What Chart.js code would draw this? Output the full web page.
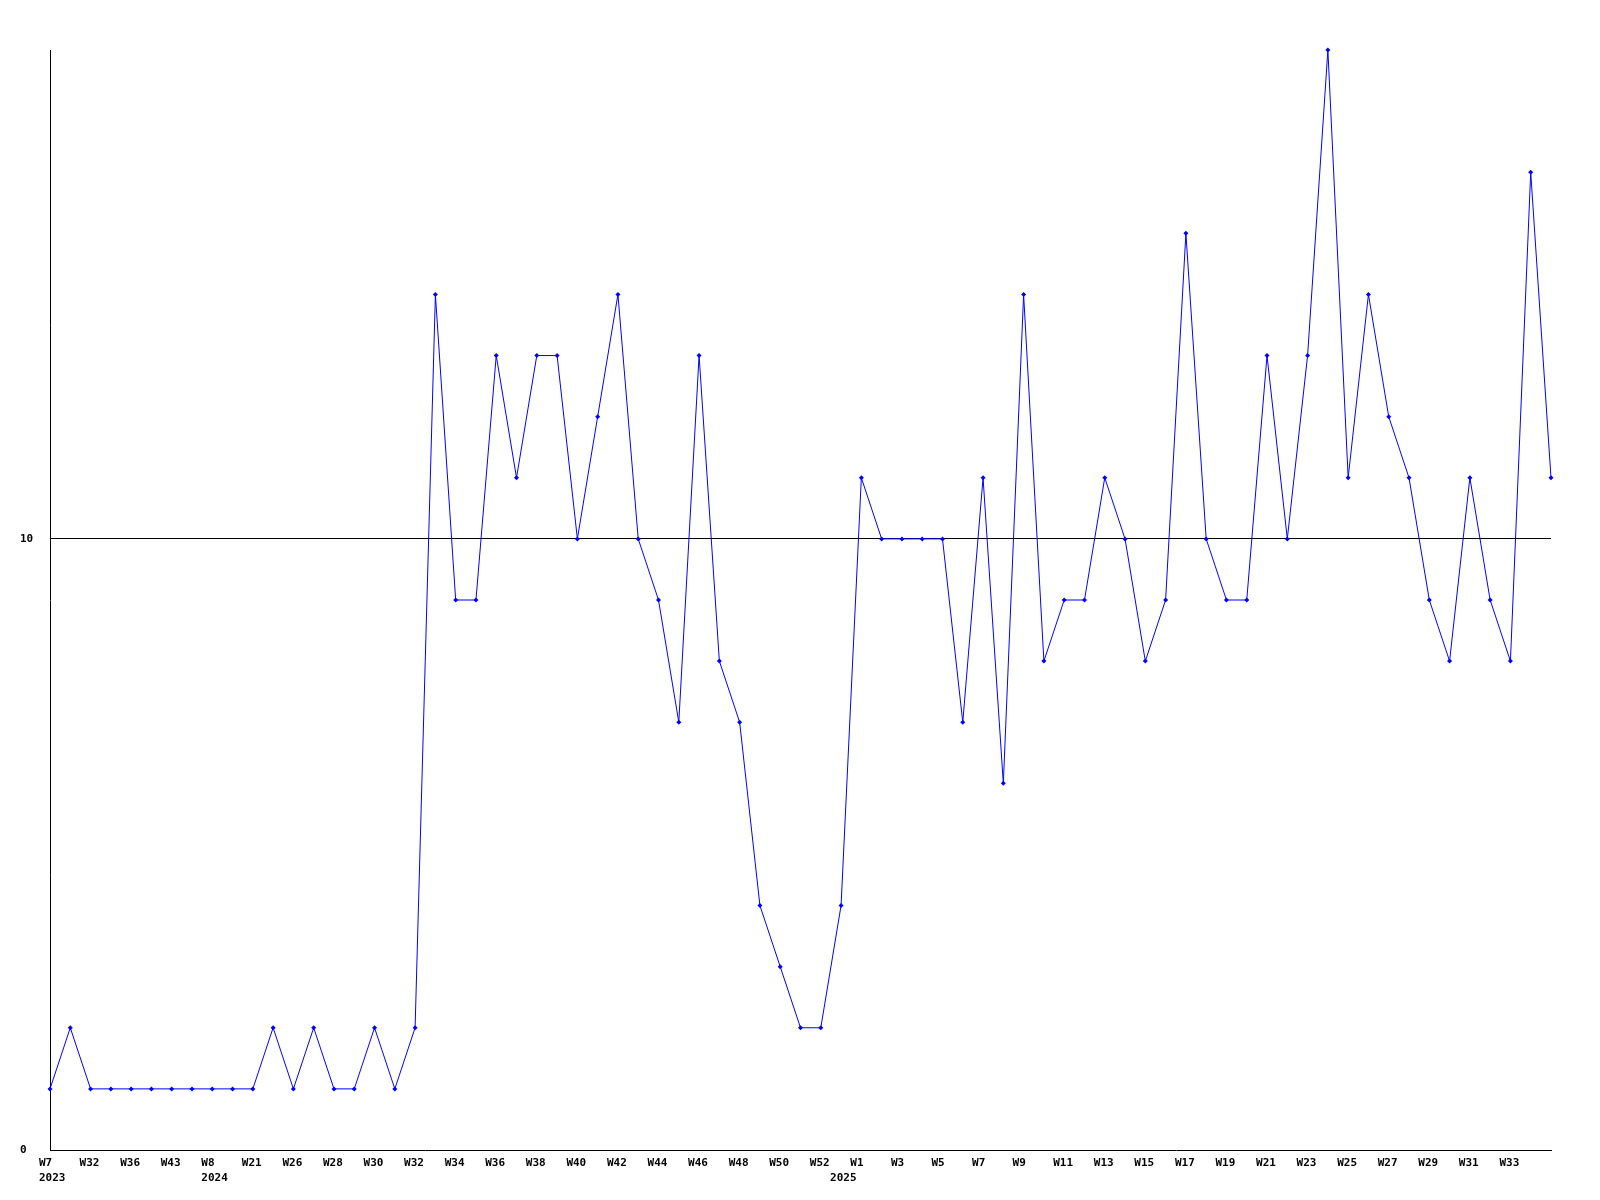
<!DOCTYPE html>
<html lang="en">
<head>
    <meta charset="UTF-8">
    <title>Weekly count</title>
    <style>
        body { margin: 0; background: #fff; }
        #wrap { width: 1600px; height: 1200px; }
    </style>
</head>
<body>
    <div id="wrap">
        <canvas id="chart" width="1600" height="1200"></canvas>
    </div>

    <script src="https://cdn.jsdelivr.net/npm/chart.js@4.4.0/dist/chart.umd.min.js"></script>
    <script>
        // week labels, one per point (only every second one is printed)
        var weeks = [
            'W7', 'W20', 'W32', 'W34', 'W36', 'W40', 'W43', 'W47', 'W8', 'W12',
            'W21', 'W24', 'W26', 'W27', 'W28', 'W29', 'W30', 'W31', 'W32', 'W33',
            'W34', 'W35', 'W36', 'W37', 'W38', 'W39', 'W40', 'W41', 'W42', 'W43',
            'W44', 'W45', 'W46', 'W47', 'W48', 'W49', 'W50', 'W51', 'W52', 'W1',
            'W1', 'W2', 'W3', 'W4', 'W5', 'W6', 'W7', 'W8', 'W9', 'W10',
            'W11', 'W12', 'W13', 'W14', 'W15', 'W16', 'W17', 'W18', 'W19', 'W20',
            'W21', 'W22', 'W23', 'W24', 'W25', 'W26', 'W27', 'W28', 'W29', 'W30',
            'W31', 'W32', 'W33', 'W34', 'W35'
        ];
        // year printed under the first point of each year
        var years = { 0: '2023', 8: '2024', 39: '2025' };

        var counts = [
            1, 2, 1, 1, 1, 1, 1, 1, 1, 1,
            1, 2, 1, 2, 1, 1, 2, 1, 2, 14,
            9, 9, 13, 11, 13, 13, 10, 12, 14, 10,
            9, 7, 13, 8, 7, 4, 3, 2, 2, 4,
            11, 10, 10, 10, 10, 7, 11, 6, 14, 8,
            9, 9, 11, 10, 8, 9, 15, 10, 9, 9,
            13, 10, 13, 18, 11, 14, 12, 11, 9, 8,
            11, 9, 8, 16, 11
        ];

        var yTicks = [0, 10];
        var yMax = 18;

        var font = { family: "'DejaVu Sans Mono', 'Liberation Mono', monospace", size: 11, weight: 'bold', lineHeight: 1.36 };

        new Chart(document.getElementById('chart'), {
            type: 'line',
            data: {
                labels: weeks,
                datasets: [{
                    data: counts,
                    borderColor: '#0000ff',
                    backgroundColor: '#0000ff',
                    borderWidth: 1,
                    pointStyle: 'rectRot',
                    pointRadius: 2.5,
                    pointBorderWidth: 0,
                    tension: 0,
                    fill: false,
                    clip: false
                }]
            },
            options: {
                responsive: false,
                animation: false,
                layout: { padding: { top: 50, right: 49, left: 20, bottom: 0 } },
                plugins: {
                    legend: { display: false },
                    tooltip: { enabled: false }
                },
                scales: {
                    x: {
                        type: 'category',
                        offset: false,
                        grid: { display: false, drawTicks: false },
                        border: { display: true, color: '#000', width: 1 },
                        ticks: {
                            autoSkip: false,
                            maxRotation: 0,
                            minRotation: 0,
                            align: 'start',
                            labelOffset: -11,
                            padding: 6,
                            color: '#000',
                            font: font,
                            callback: function (value, index) {
                                var w = (index % 2 === 0 && index < weeks.length - 1) ? weeks[index] : '';
                                if (years[index]) return [w, years[index]];
                                return w;
                            }
                        },
                        afterFit: function (scale) { scale.height = 50; }
                    },
                    y: {
                        min: 0,
                        max: yMax,
                        afterBuildTicks: function (scale) {
                            scale.ticks = yTicks.map(function (v) { return { value: v }; });
                        },
                        grid: {
                            drawTicks: false,
                            color: function (ctx) {
                                return ctx.tick && ctx.tick.value === 10 ? '#000' : 'rgba(0,0,0,0)';
                            },
                            lineWidth: 1
                        },
                        border: { display: true, color: '#000', width: 1 },
                        ticks: {
                            crossAlign: 'far',
                            padding: 0,
                            color: '#000',
                            font: font
                        },
                        afterFit: function (scale) { scale.width = 30; }
                    }
                }
            }
        });
    </script>
</body>
</html>
